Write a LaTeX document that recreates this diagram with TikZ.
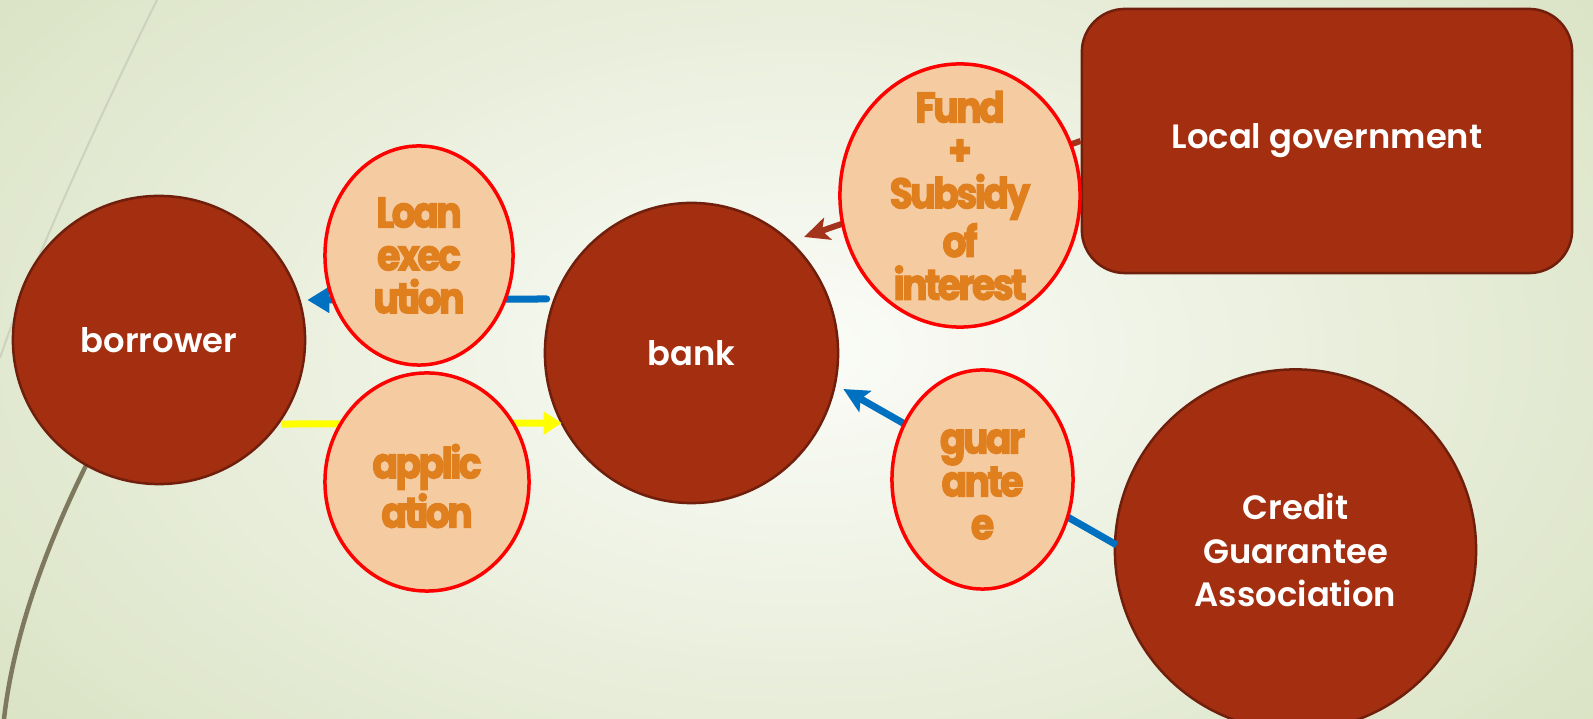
\documentclass[tikz,border=0pt]{standalone}
\usepackage{fontspec}
\setmainfont{Poppins}[BoldFont={Poppins SemiBold}]
\newfontfamily\orfont{Poppins}[FakeStretch=0.88,LetterSpace=-6,FakeBold=2.6]
\usetikzlibrary{shapes.geometric,arrows.meta}
\definecolor{rust}{HTML}{A32E10}
\definecolor{rustdark}{HTML}{6F1F0B}
\definecolor{peach}{HTML}{F5CBA1}
\definecolor{ortext}{HTML}{DF7F1E}
\definecolor{arrblue}{HTML}{0070C0}
\definecolor{arrbrown}{HTML}{A3331A}
\definecolor{arryellow}{HTML}{FFFF00}
\definecolor{bgin}{HTML}{FBFCF8}
\definecolor{bgout}{HTML}{D6E0BE}
\definecolor{wispthin}{HTML}{CDD2BE}
\definecolor{wispthick}{HTML}{7E785E}
\begin{document}
\begin{tikzpicture}[x=0.01cm,y=-0.01cm,
  bignode/.style={ellipse,fill=rust,draw=rustdark,line width=0.025cm,inner sep=0pt,text=white,align=center,font=\bfseries\fontsize{9.6}{12.4}\selectfont},
  smallnode/.style={ellipse,fill=peach,draw=red,line width=0.035cm,inner sep=0pt},
  smalltext/.style={text=ortext,align=center,inner sep=0pt,font=\orfont\bfseries\fontsize{12.2}{12.2}\selectfont},
  bluearrow/.style={draw=arrblue,line width=0.07cm,line cap=round,-{Triangle[length=0.22cm,width=0.25cm]}},
  yellowarrow/.style={draw=arryellow,line width=0.07cm,-{Triangle[length=0.18cm,width=0.22cm]}},
  brownarrow/.style={draw=arrbrown,line width=0.06cm,-{Stealth[length=0.25cm,width=0.23cm,inset=0.06cm]}},
  bluearrowb/.style={draw=arrblue,line width=0.07cm,-{Stealth[length=0.25cm,width=0.24cm,inset=0.05cm]}}]
\useasboundingbox (0,0) rectangle (1593,719);
\begin{scope}
\clip (0,0) rectangle (1593,719);
\shade[inner color=bgin,outer color=bgout] (-350,-330) rectangle (1950,1030);
\end{scope}
\draw[wispthin,line width=0.02cm] (157,0) .. controls (110,95) and (35,255) .. (0,358);
\draw[wispthick,line width=0.045cm] (110,420) .. controls (60,510) and (15,620) .. (4,719);

\node[bignode,minimum width=2.92cm,minimum height=2.88cm] (borrower) at (159,340) {borrower};
\node[bignode,minimum width=2.93cm,minimum height=3.00cm] (bank) at (691.5,353) {bank};
\node[bignode,rectangle,rounded corners=0.43cm,minimum width=4.90cm,minimum height=2.64cm] (localgov) at (1327,141) {Local government};
\node[bignode,minimum width=3.61cm,minimum height=3.61cm] (credit) at (1295.5,550) {Credit\\Guarantee\\Association};

\draw[bluearrow] ([xshift=0.03cm,yshift=0.54cm]bank.west) -- ([xshift=0.01cm,yshift=0.40cm]borrower.east);
\draw[yellowarrow] ([xshift=-0.25cm,yshift=-0.84cm]borrower.east) -- ([xshift=0.18cm,yshift=-0.70cm]bank.west);
\draw[brownarrow] (localgov.west) -- ([xshift=0.08cm,yshift=0.09cm]bank.north east);
\draw[bluearrowb] ([xshift=0.03cm,yshift=0.05cm]credit.west) -- ([xshift=0.04cm,yshift=-0.36cm]bank.east);

\node[smallnode,minimum width=1.88cm,minimum height=2.19cm,label={[smalltext]center:Loan\\exec\\ution}] (loan) at (419,255.5) {};
\node[smallnode,minimum width=2.04cm,minimum height=2.18cm,label={[smalltext,yshift=-0.04cm]center:applic\\ation}] (app) at (427,482) {};
\node[smallnode,minimum width=2.40cm,minimum height=2.63cm,label={[smalltext]center:Fund\\+\\Subsidy\\of\\interest}] (fund) at (960,195.5) {};
\node[smallnode,minimum width=1.81cm,minimum height=2.19cm,label={[smalltext,yshift=-0.05cm]center:guar\\ante\\e}] (guar) at (982.5,479.5) {};
\end{tikzpicture}
\end{document}
